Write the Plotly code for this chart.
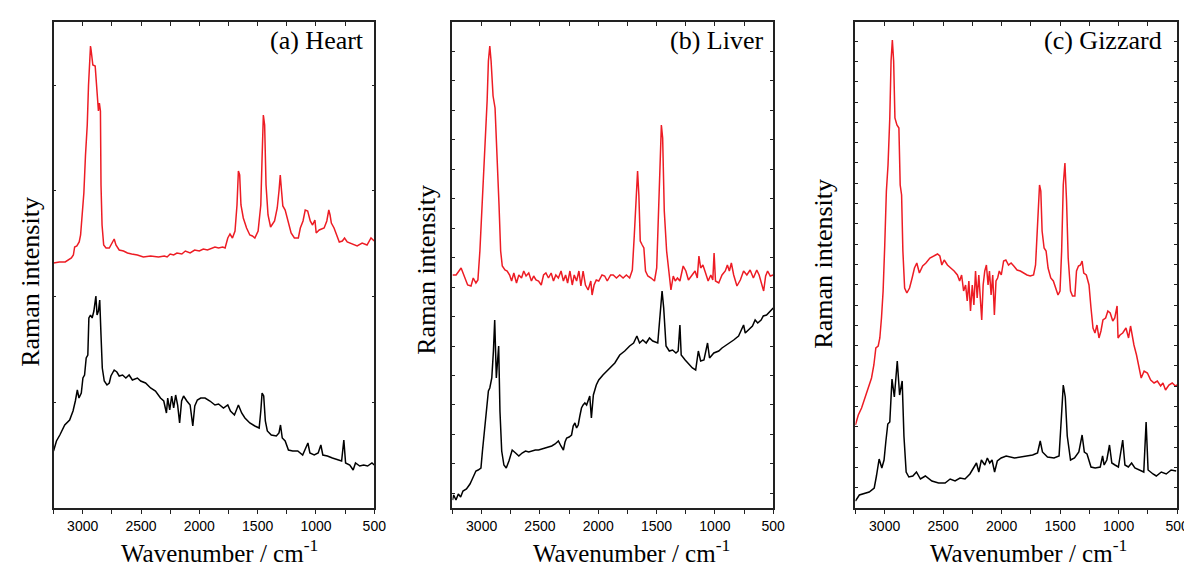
import plotly.graph_objects as go

# ---------------- data (wavenumber / cm-1, Raman intensity a.u.) ----------------
heart_red_x = [3250, 3200, 3150, 3120, 3097, 3080, 3069, 3050, 3030, 3018, 3006, 2990, 2976, 2961, 2950, 2940, 2933, 2928, 2922, 2913, 2893, 2879, 2865, 2857, 2848, 2843, 2834, 2820, 2800, 2772, 2743, 2730, 2715, 2687, 2650, 2616, 2580, 2531, 2480, 2418, 2350, 2300, 2276, 2250, 2220, 2192, 2150, 2120, 2079, 2040, 2000, 1966, 1930, 1892, 1866, 1835, 1800, 1779, 1756, 1737, 1716, 1694, 1677, 1665, 1654, 1643, 1623, 1595, 1567, 1545, 1524, 1496, 1473, 1462, 1451, 1440, 1428, 1411, 1389, 1355, 1332, 1317, 1306, 1295, 1284, 1264, 1241, 1213, 1185, 1151, 1134, 1111, 1092, 1071, 1049, 1029, 1009, 998, 972, 930, 907, 890, 879, 868, 845, 823, 800, 774, 755, 732, 689, 647, 604, 562, 528, 500]
heart_red_y = [245, 246, 246, 248, 250, 253, 261, 262, 266, 273, 290, 315, 353, 383, 423, 450, 462, 458, 453, 443, 442, 423, 397, 405, 397, 323, 283, 263, 260, 260, 267, 269, 263, 258, 257, 255, 254, 253, 251, 252, 251, 252, 251, 254, 253, 255, 254, 257, 255, 258, 257, 259, 258, 260, 261, 260, 261, 260, 270, 274, 270, 277, 303, 337, 333, 303, 290, 280, 273, 272, 270, 277, 303, 350, 393, 383, 323, 293, 281, 287, 300, 317, 333, 317, 302, 298, 287, 275, 270, 270, 280, 287, 298, 297, 287, 283, 288, 275, 278, 280, 287, 298, 293, 285, 280, 272, 266, 267, 270, 266, 264, 262, 265, 263, 270, 267]

heart_black_x = [3250, 3225, 3196, 3154, 3112, 3083, 3063, 3046, 3032, 3012, 2998, 2984, 2970, 2956, 2947, 2933, 2919, 2904, 2887, 2877, 2865, 2854, 2843, 2832, 2815, 2792, 2772, 2758, 2730, 2707, 2687, 2658, 2630, 2602, 2574, 2531, 2503, 2461, 2418, 2376, 2333, 2305, 2282, 2271, 2254, 2237, 2220, 2203, 2186, 2169, 2152, 2135, 2107, 2079, 2056, 2039, 2017, 1988, 1951, 1909, 1866, 1835, 1793, 1756, 1733, 1699, 1665, 1637, 1609, 1567, 1524, 1487, 1473, 1462, 1448, 1434, 1417, 1383, 1340, 1317, 1304, 1289, 1264, 1236, 1199, 1156, 1114, 1086, 1069, 1052, 1015, 981, 958, 941, 902, 859, 817, 780, 761, 746, 710, 681, 661, 625, 591, 557, 520, 500]
heart_black_y = [57, 67, 73, 83, 88, 97, 107, 118, 110, 115, 130, 133, 150, 153, 190, 193, 190, 197, 212, 193, 197, 208, 173, 140, 127, 123, 125, 132, 138, 136, 132, 133, 130, 133, 128, 130, 127, 125, 120, 117, 110, 107, 95, 110, 98, 112, 100, 113, 103, 85, 107, 112, 107, 103, 82, 102, 108, 110, 110, 107, 103, 104, 100, 103, 97, 93, 103, 95, 90, 85, 82, 80, 97, 115, 112, 87, 77, 73, 72, 75, 83, 70, 67, 58, 57, 57, 53, 60, 65, 55, 53, 55, 63, 53, 52, 50, 48, 47, 68, 45, 43, 38, 45, 42, 43, 42, 45, 43]

liver_red_x = [3250, 3219, 3176, 3148, 3120, 3091, 3072, 3049, 3032, 3015, 2993, 2970, 2953, 2942, 2930, 2919, 2902, 2885, 2868, 2851, 2837, 2823, 2800, 2781, 2760, 2743, 2724, 2701, 2681, 2658, 2639, 2619, 2596, 2573, 2554, 2534, 2512, 2489, 2469, 2449, 2427, 2404, 2384, 2364, 2342, 2319, 2299, 2280, 2263, 2243, 2223, 2206, 2186, 2166, 2149, 2130, 2110, 2087, 2064, 2053, 2036, 2017, 1996, 1968, 1945, 1923, 1894, 1872, 1844, 1816, 1787, 1759, 1731, 1708, 1691, 1674, 1663, 1652, 1640, 1623, 1609, 1595, 1575, 1547, 1518, 1499, 1485, 1471, 1459, 1448, 1434, 1414, 1397, 1377, 1357, 1340, 1321, 1300, 1272, 1249, 1227, 1199, 1170, 1151, 1137, 1122, 1103, 1080, 1058, 1035, 1018, 1007, 995, 967, 939, 911, 893, 876, 859, 839, 811, 782, 754, 726, 698, 670, 641, 621, 599, 582, 565, 548, 525, 500]
liver_red_y = [233, 233, 240, 232, 223, 222, 230, 225, 228, 257, 310, 357, 407, 447, 462, 447, 412, 400, 357, 303, 257, 242, 238, 237, 233, 227, 235, 225, 233, 230, 237, 232, 235, 227, 232, 228, 227, 223, 233, 235, 230, 235, 227, 233, 230, 237, 227, 233, 225, 237, 223, 233, 227, 237, 222, 237, 223, 218, 227, 213, 223, 228, 227, 233, 232, 227, 233, 233, 230, 233, 230, 233, 230, 238, 273, 317, 337, 313, 267, 263, 260, 237, 232, 230, 227, 240, 290, 357, 383, 370, 297, 257, 237, 218, 232, 227, 230, 227, 242, 237, 228, 233, 237, 230, 252, 240, 243, 235, 227, 233, 228, 255, 227, 225, 233, 237, 243, 237, 245, 233, 222, 228, 237, 233, 238, 230, 238, 233, 223, 217, 232, 237, 232, 233]

liver_black_x = [3250, 3240, 3220, 3200, 3180, 3160, 3130, 3100, 3080, 3060, 3049, 3030, 3006, 2993, 2970, 2955, 2942, 2930, 2913, 2899, 2888, 2874, 2854, 2843, 2828, 2809, 2789, 2766, 2738, 2709, 2681, 2653, 2624, 2596, 2568, 2540, 2512, 2484, 2455, 2427, 2399, 2370, 2342, 2320, 2299, 2285, 2271, 2250, 2229, 2215, 2200, 2186, 2172, 2158, 2144, 2130, 2115, 2100, 2087, 2073, 2059, 2042, 2017, 1996, 1960, 1917, 1875, 1858, 1816, 1773, 1731, 1697, 1669, 1646, 1618, 1589, 1561, 1533, 1490, 1470, 1453, 1439, 1419, 1391, 1363, 1334, 1315, 1300, 1289, 1255, 1221, 1193, 1165, 1142, 1122, 1094, 1063, 1046, 1009, 967, 939, 911, 876, 839, 797, 754, 740, 712, 678, 655, 633, 604, 585, 557, 528, 500]
liver_black_y = [8, 13, 8, 14, 11, 17, 19, 24, 29, 34, 37, 38, 40, 57, 83, 100, 117, 120, 130, 157, 188, 130, 162, 97, 57, 43, 40, 47, 58, 55, 52, 55, 57, 56, 57, 58, 58, 59, 60, 61, 62, 64, 67, 62, 58, 66, 70, 71, 73, 82, 85, 80, 83, 92, 100, 103, 105, 103, 107, 112, 90, 113, 123, 128, 133, 138, 143, 145, 153, 157, 162, 165, 172, 165, 168, 165, 170, 167, 165, 197, 217, 200, 162, 157, 158, 155, 157, 183, 153, 148, 143, 140, 138, 157, 147, 148, 165, 150, 155, 157, 160, 162, 165, 168, 172, 183, 175, 178, 182, 188, 185, 188, 192, 193, 197, 200]

gizzard_red_x = [3250, 3225, 3197, 3168, 3140, 3112, 3092, 3075, 3055, 3041, 3027, 3013, 2999, 2985, 2971, 2956, 2945, 2934, 2923, 2912, 2895, 2878, 2867, 2855, 2844, 2829, 2810, 2787, 2765, 2745, 2725, 2703, 2675, 2647, 2613, 2576, 2548, 2528, 2511, 2491, 2463, 2435, 2406, 2378, 2359, 2342, 2325, 2308, 2294, 2280, 2266, 2251, 2237, 2223, 2209, 2195, 2181, 2170, 2158, 2144, 2130, 2116, 2104, 2090, 2076, 2062, 2048, 2034, 2020, 2003, 1983, 1964, 1941, 1919, 1896, 1868, 1840, 1811, 1783, 1755, 1727, 1710, 1693, 1676, 1665, 1654, 1637, 1620, 1603, 1580, 1558, 1535, 1518, 1501, 1487, 1473, 1459, 1445, 1431, 1411, 1394, 1374, 1360, 1343, 1326, 1312, 1298, 1276, 1253, 1236, 1219, 1202, 1185, 1168, 1151, 1134, 1111, 1092, 1072, 1050, 1033, 1013, 1005, 988, 965, 937, 915, 898, 886, 869, 847, 824, 807, 782, 754, 726, 697, 669, 641, 621, 599, 570, 542, 514, 500]
gizzard_red_y = [83, 93, 100, 110, 120, 130, 143, 160, 162, 170, 190, 217, 263, 317, 343, 390, 447, 468, 447, 390, 383, 380, 323, 313, 257, 220, 215, 220, 230, 240, 245, 235, 242, 245, 250, 252, 254, 252, 243, 248, 243, 240, 237, 233, 227, 233, 217, 223, 207, 227, 197, 223, 203, 237, 210, 233, 203, 188, 223, 237, 243, 223, 237, 213, 233, 193, 227, 230, 237, 233, 247, 248, 243, 245, 242, 238, 237, 235, 233, 232, 233, 243, 290, 323, 317, 277, 260, 257, 240, 230, 227, 220, 213, 217, 257, 323, 345, 307, 250, 217, 212, 212, 237, 242, 243, 247, 235, 233, 223, 200, 180, 175, 183, 170, 177, 188, 190, 197, 195, 187, 190, 202, 170, 173, 175, 180, 170, 182, 172, 163, 153, 140, 130, 137, 135, 128, 125, 127, 122, 125, 118, 123, 125, 122, 123]

gizzard_black_x = [3250, 3216, 3132, 3089, 3070, 3047, 3024, 3005, 2990, 2973, 2956, 2937, 2917, 2892, 2872, 2850, 2835, 2816, 2793, 2759, 2728, 2694, 2652, 2596, 2539, 2483, 2440, 2398, 2356, 2313, 2271, 2243, 2215, 2195, 2173, 2144, 2122, 2102, 2082, 2060, 2037, 2004, 1961, 1890, 1806, 1735, 1693, 1670, 1651, 1608, 1552, 1509, 1490, 1473, 1456, 1439, 1411, 1377, 1340, 1312, 1293, 1270, 1236, 1200, 1157, 1137, 1124, 1101, 1078, 1058, 1031, 1002, 965, 946, 917, 889, 861, 819, 785, 765, 748, 706, 678, 635, 593, 551, 508]
gizzard_black_y = [7, 13, 16, 20, 32, 49, 40, 48, 66, 84, 86, 129, 111, 147, 113, 127, 72, 36, 31, 32, 36, 29, 32, 27, 25, 25, 29, 27, 30, 29, 34, 40, 45, 36, 48, 43, 50, 45, 48, 36, 47, 50, 52, 50, 52, 53, 55, 67, 56, 51, 50, 52, 89, 123, 111, 72, 48, 50, 56, 73, 56, 54, 41, 40, 41, 52, 43, 48, 63, 45, 43, 41, 68, 43, 41, 45, 40, 38, 36, 86, 38, 34, 32, 36, 34, 38, 37]

panel_titles = ["(a) Heart", "(b) Liver", "(c) Gizzard"]
x_title = "Wavenumber / cm<sup>-1</sup>"
y_title = "Raman intensity"

# ---------------- figure ----------------
W, H = 1192, 566
RED = "#ED1C24"
AX = "#222222"
SERIF = "Liberation Serif, Times New Roman, serif"
SANS = "Liberation Sans, Arial, sans-serif"

panels = [
    dict(l=46, r=370, red=(heart_red_x, heart_red_y), blk=(heart_black_x, heart_black_y),
         tick0=0, dtick=105.7, label_r=362, ytx=22, yty=274, xtx=214),
    dict(l=449, r=773, red=(liver_red_x, liver_red_y), blk=(liver_black_x, liver_black_y),
         tick0=14.6, dtick=29.47, label_r=765, ytx=422, yty=262, xtx=630),
    dict(l=856, r=1181, red=(gizzard_red_x, gizzard_red_y), blk=(gizzard_black_x, gizzard_black_y),
         tick0=0, dtick=20.3, label_r=1168, ytx=823, yty=256, xtx=1031),
]
top_px, bot_px = 14, 500
ydom = [1 - bot_px / H, 1 - top_px / H]

fig = go.Figure()
layout = dict(width=W, height=H, margin=dict(l=0, r=0, t=0, b=0),
              paper_bgcolor="white", plot_bgcolor="white", showlegend=False,
              annotations=[])

for i, p in enumerate(panels):
    n = i + 1
    xa = "x" if n == 1 else f"x{n}"
    ya = "y" if n == 1 else f"y{n}"
    xt = f"x{n + 3}"
    fig.add_trace(go.Scatter(x=p["blk"][0], y=p["blk"][1], mode="lines",
                             line=dict(color="black", width=1.5), xaxis=xa, yaxis=ya))
    fig.add_trace(go.Scatter(x=p["red"][0], y=p["red"][1], mode="lines",
                             line=dict(color=RED, width=1.5), xaxis=xa, yaxis=ya))
    fig.add_trace(go.Scatter(x=[None], y=[None], mode="lines", xaxis=xt, yaxis=ya,
                             hoverinfo="skip"))
    xdom = [p["l"] / W, p["r"] / W]
    key = "xaxis" if n == 1 else f"xaxis{n}"
    ykey = "yaxis" if n == 1 else f"yaxis{n}"
    layout[key] = dict(domain=xdom, range=[3250, 500], anchor=ya,
                       showline=True, linecolor=AX, linewidth=1.5, mirror=True,
                       ticks="outside", ticklen=4, tickwidth=1.3, tickcolor=AX,
                       tickmode="linear", tick0=500, dtick=500,
                       minor=dict(ticks="outside", ticklen=4, tickwidth=1.3,
                                  tickcolor=AX, tick0=250, dtick=250, showgrid=False),
                       tickfont=dict(family=SANS, size=14, color="black"),
                       showgrid=False, zeroline=False)
    layout[f"xaxis{n + 3}"] = dict(overlaying=xa, side="top", anchor=ya,
                                   range=[3250, 500], showline=False,
                                   ticks="inside", ticklen=4, tickwidth=1.3, tickcolor=AX,
                                   tickmode="linear", tick0=250, dtick=250,
                                   showticklabels=False, showgrid=False, zeroline=False)
    layout[ykey] = dict(domain=ydom, range=[0, 486], anchor=xa,
                        showline=True, linecolor=AX, linewidth=1.5, mirror="ticks",
                        ticks="inside", ticklen=3, tickwidth=1.2, tickcolor=AX,
                        tick0=p["tick0"], dtick=p["dtick"], showticklabels=False,
                        showgrid=False, zeroline=False)
    layout["annotations"] += [
        dict(text=panel_titles[i], xref="paper", yref="paper",
             x=p["label_r"] / W, y=1 - 33 / H, xanchor="right", yanchor="middle",
             showarrow=False, font=dict(family=SERIF, size=26, color="black")),
        dict(text=y_title, xref="paper", yref="paper", textangle=-90,
             x=p["ytx"] / W, y=1 - p["yty"] / H, xanchor="center", yanchor="middle",
             showarrow=False, font=dict(family=SERIF, size=26, color="black")),
        dict(text=x_title, xref="paper", yref="paper",
             x=p["xtx"] / W, y=5.5 / H, xanchor="center", yanchor="bottom",
             showarrow=False, font=dict(family=SERIF, size=25, color="black")),
    ]

fig.update_layout(**layout)
fig.write_html("out.html")
